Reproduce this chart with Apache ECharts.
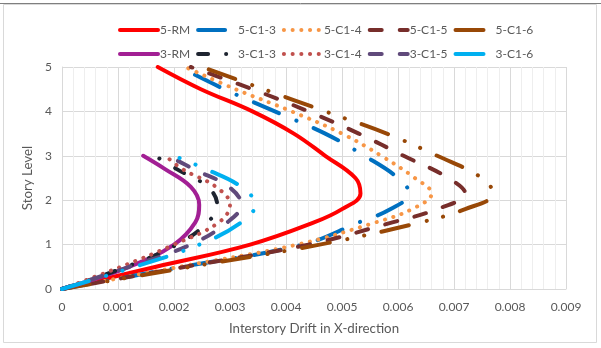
<!DOCTYPE html>
<html>
<head>
<meta charset="utf-8">
<script src="https://cdn.jsdelivr.net/npm/echarts@6/dist/echarts.min.js"></script>
<style>
  html, body { margin: 0; padding: 0; background: #ffffff; }
  #chart { width: 601px; height: 348px; }
</style>
</head>
<body>
<div id="chart"></div>
<script>
// Story levels at which drift is plotted
const levels5 = [0, 0.5, 1, 1.5, 1.8, 2.15, 2.5, 3, 3.5, 4, 4.5, 5];
const levels3 = [0, 0.5, 1, 1.5, 1.9, 2.3, 2.7, 3];

// Interstory drift (X-direction), five-story models
const drift5RM   = [0, 0.00168, 0.00336, 0.0045, 0.0050, 0.00533, 0.00524, 0.0047, 0.00414, 0.0034, 0.00248, 0.00171];
const drift5C13  = [0, 0.00215, 0.0043, 0.0053, 0.00587, 0.0062, 0.0060, 0.0054, 0.0047, 0.0038, 0.0029, 0.0021];
const drift5C14  = [0, 0.0021, 0.0042, 0.0056, 0.00625, 0.0066, 0.0063, 0.0057, 0.0050, 0.0041, 0.0031, 0.0022];
const drift5C15  = [0, 0.0022, 0.0044, 0.0059, 0.0067, 0.0072, 0.0069, 0.0061, 0.0053, 0.0044, 0.0034, 0.0023];
const drift5C16  = [0, 0.0023, 0.0046, 0.0064, 0.0072, 0.0077, 0.0075, 0.0067, 0.0058, 0.0047, 0.0036, 0.0025];

// Interstory drift (X-direction), three-story models
const drift3RM   = [0, 0.0012, 0.0020, 0.00238, 0.00245, 0.0023, 0.00184, 0.00145];
const drift3C13  = [0, 0.00115, 0.00205, 0.0026, 0.00277, 0.0026, 0.00205, 0.00166];
const drift3C14  = [0, 0.00105, 0.0020, 0.0028, 0.0030, 0.00275, 0.00215, 0.00185];
const drift3C15  = [0, 0.0012, 0.0023, 0.00295, 0.0032, 0.00298, 0.00235, 0.0019];
const drift3C16  = [0, 0.0013, 0.00245, 0.0032, 0.00345, 0.0032, 0.00257, 0.0020];

const xTicks = ['0', '0.001', '0.002', '0.003', '0.004', '0.005', '0.006', '0.007', '0.008', '0.009'];
const yTicks = ['0', '1', '2', '3', '4', '5'];

const names5 = ['5-RM', '5-C1-3', '5-C1-4', '5-C1-5', '5-C1-6'];
const names3 = ['3-RM', '3-C1-3', '3-C1-4', '3-C1-5', '3-C1-6'];

const FONT = 'Lato, "Liberation Sans", sans-serif';
const TEXT = '#595959';
const GRID = '#d9d9d9';
const W = 4;

// line patterns
const SOLID = 'solid';
const DASH_DOT = [27, 19, 0.1, 19];
const SHORT_DASH_DOT = [10, 18, 0.1, 18];
const DOTS = [0.1, 8.6];
const DASH = [12, 18];
const LONG_DASH_DOT_DOT = [28, 18, 0.1, 17, 0.1, 18];

function pairs(xs, ys) {
  return xs.map((x, i) => [x, ys[i]]);
}

function curve(name, xs, ys, color, type) {
  return {
    name: name,
    type: 'line',
    data: pairs(xs, ys),
    smooth: 0.4,
    symbol: 'none',
    showSymbol: false,
    animation: false,
    lineStyle: { color: color, width: W, type: type, cap: 'round', join: 'round' },
    itemStyle: { color: color }
  };
}

const series = [
  curve('5-RM',   drift5RM,  levels5, '#FF0000', SOLID),
  curve('5-C1-3', drift5C13, levels5, '#0070C0', DASH_DOT),
  curve('5-C1-4', drift5C14, levels5, '#F79646', DOTS),
  curve('5-C1-5', drift5C15, levels5, '#772E2B', DASH),
  curve('5-C1-6', drift5C16, levels5, '#984807', LONG_DASH_DOT_DOT),
  curve('3-RM',   drift3RM,  levels3, '#A21F94', SOLID),
  curve('3-C1-3', drift3C13, levels3, '#1E2430', SHORT_DASH_DOT),
  curve('3-C1-4', drift3C14, levels3, '#C0504D', DOTS),
  curve('3-C1-5', drift3C15, levels3, '#604A7B', DASH),
  curve('3-C1-6', drift3C16, levels3, '#00B0F0', LONG_DASH_DOT_DOT)
];

function legendRow(names, top) {
  return {
    data: names,
    top: top,
    left: 113,
    orient: 'horizontal',
    itemWidth: 38,
    itemHeight: 12,
    itemGap: 6,
    itemStyle: { opacity: 0 },
    lineStyle: { width: 4 },
    textStyle: {
      color: TEXT,
      fontFamily: FONT,
      fontSize: 12,
      padding: [0, 0, 0, -3],
      rich: { t: { width: 34, fontFamily: FONT, fontSize: 12, color: TEXT } }
    },
    formatter: '{t|{name}}',
    selectedMode: false
  };
}

const chart = echarts.init(document.getElementById('chart'), null, { renderer: 'canvas' });
chart.setOption({
  backgroundColor: '#ffffff',
  animation: false,
  graphic: [{
    type: 'rect',
    shape: { x: 3.5, y: 4.5, width: 593, height: 338 },
    style: { fill: 'none', stroke: '#d9d9d9', lineWidth: 1 },
    silent: true, z: -1
  }, {
    type: 'line',
    shape: { x1: 0, y1: 3.5, x2: 601, y2: 3.5 },
    style: { stroke: '#7f7f7f', lineWidth: 1 },
    silent: true, z: -1
  }],
  legend: [legendRow(names5, 19), legendRow(names3, 43)],
  grid: { left: 62, right: 35, top: 67, bottom: 59, containLabel: false },
  xAxis: {
    type: 'value',
    min: 0, max: 0.009, interval: 0.001,
    name: 'Interstory Drift in X-direction',
    nameLocation: 'middle',
    nameGap: 33,
    nameTextStyle: { color: TEXT, fontFamily: FONT, fontSize: 13.3 },
    axisLine: { show: true, lineStyle: { color: GRID, width: 1 } },
    axisTick: { show: false },
    axisLabel: {
      color: TEXT, fontFamily: FONT, fontSize: 12, margin: 12,
      formatter: (v) => xTicks[Math.round(v / 0.001)]
    },
    splitLine: { show: true, lineStyle: { color: GRID, width: 1 } },
    minorTick: { show: false, splitNumber: 5 },
    minorSplitLine: { show: true, lineStyle: { color: '#eeeeee', width: 1 } }
  },
  yAxis: {
    type: 'value',
    min: 0, max: 5, interval: 1,
    name: 'Story Level',
    nameLocation: 'middle',
    nameGap: 26,
    nameRotate: 90,
    nameTextStyle: { color: TEXT, fontFamily: FONT, fontSize: 13.3 },
    axisLine: { show: true, lineStyle: { color: GRID, width: 1 } },
    axisTick: { show: false },
    axisLabel: {
      color: TEXT, fontFamily: FONT, fontSize: 12, margin: 10,
      formatter: (v) => yTicks[Math.round(v)]
    },
    splitLine: { show: true, lineStyle: { color: GRID, width: 1 } }
  },
  series: series
});
</script>
</body>
</html>
